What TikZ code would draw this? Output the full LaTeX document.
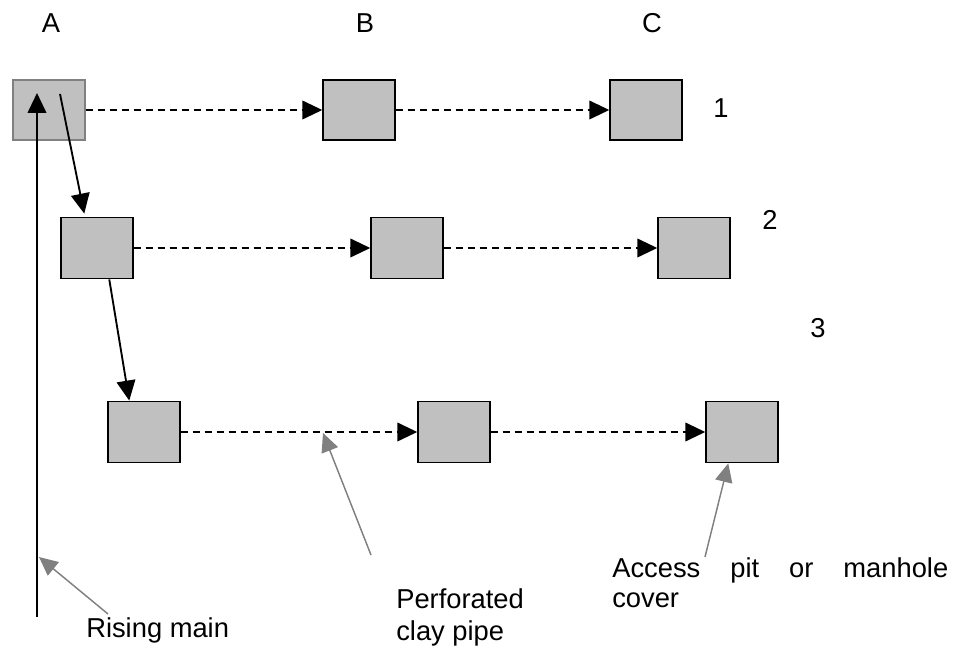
\documentclass[tikz,border=0pt]{standalone}
\usepackage{fontspec}
\setmainfont{Liberation Sans}
\usetikzlibrary{arrows.meta,calc}
\tikzset{
    pit/.style={draw, line width=1.1pt, fill={rgb,255:red,192;green,192;blue,192},
                minimum width=54pt, minimum height=46pt, inner sep=0pt},
    flow/.style={-{Triangle[length=15pt, width=14pt]}, line width=1.4pt},
    pipe/.style={flow, dash pattern=on 5.25pt off 3.75pt},
    pointer/.style={-{Triangle[length=14pt, width=13pt]}, line width=1.1pt,
                    draw={rgb,255:red,128;green,128;blue,128}},
    note/.style={font=\fontsize{20.5}{23}\selectfont, inner sep=0pt, align=left},
}

\begin{document}
\begin{tikzpicture}[x=0.75pt, y=-0.75pt]
    \path[use as bounding box] (0,0) rectangle (961,648);

    % column and row labels
    \node[note] (colA) at (51,23) {A};
    \node[note] (colB) at (365,23) {B};
    \node[note] (colC) at (652,23) {C};
    \node[note] (row1) at (721,108) {1};
    \node[note] (row2) at (770,220) {2};
    \node[note] (row3) at (818,328) {3};

    % pits
    \node[pit, draw={rgb,255:red,128;green,128;blue,128}, minimum height=45pt] (a1) at (49,110) {};
    \node[pit, minimum height=45pt] (b1) at (359,110) {};
    \node[pit, minimum height=45pt] (c1) at (646,110) {};
    \node[pit] (a2) at (97,248) {};
    \node[pit] (b2) at (407,248) {};
    \node[pit] (c2) at (694,248) {};
    \node[pit] (a3) at (144,432) {};
    \node[pit] (b3) at (454,432) {};
    \node[pit] (c3) at (742,432) {};

    % perforated pipes
    \draw[pipe] (a1) -- (b1);
    \draw[pipe] (b1) -- (c1);
    \draw[pipe] (a2) -- (b2);
    \draw[pipe] (b2) -- (c2);
    \draw[pipe] (a3) -- (b3);
    \draw[pipe] (b3) -- (c3);

    % feed from pit to pit
    \coordinate (a1in) at (60,94);
    \draw[flow] (a1in) -- ($(a2.north west)+(24,-3)$);
    \draw[flow] ($(a2.south west)+(49,0)$) -- ($(a3.north west)+(22,0)$);

    % rising main
    \coordinate (mainfoot) at (37,617);
    \coordinate (maintop) at (37,93);
    \draw[flow] (mainfoot) -- (maintop);

    % labels (base = last line)
    \node[note, anchor=base west] (risinglbl) at (86,638) {Rising main};
    \node[note, anchor=base west, font=\fontsize{20.5}{24}\selectfont] (pipelbl) at (396,640) {Perforated\\clay pipe};
    \node[note, anchor=base west] (pitlbl) at (612,608)
        {\makebox[252pt][s]{Access pit or manhole}\\cover};

    \coordinate (risingtail) at (108,614);
    \coordinate (risingtip) at (39,557);
    \draw[pointer] (risingtail) -- (risingtip);
    \coordinate (pipetail) at (371,555);
    \coordinate (pipetip) at (323,433);
    \draw[pointer] (pipetail) -- (pipetip);
    \coordinate (pittail) at (705,557);
    \draw[pointer] (pittail) -- ($(c3.south west)+(23,0)$);

\end{tikzpicture}
\end{document}
